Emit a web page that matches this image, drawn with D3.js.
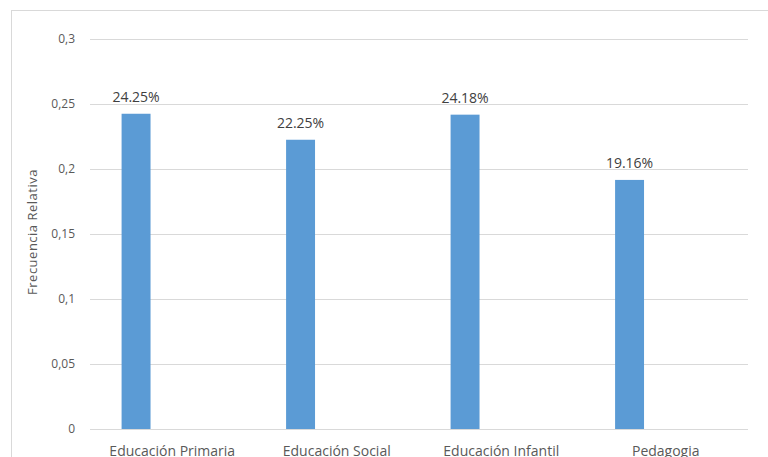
<!DOCTYPE html>
<html>
<head>
<meta charset="utf-8">
<script src="https://cdn.jsdelivr.net/npm/d3@7"></script>
<style>
  html, body { margin: 0; padding: 0; background: #fff; }
  svg { display: block; }
  text { font-family: "Open Sans", "Noto Sans", sans-serif; }
</style>
</head>
<body>
<svg id="chart" width="768" height="457"></svg>
<script>
// Frecuencia relativa por titulación
const categories = ["Educación Primaria", "Educación Social", "Educación Infantil", "Pedagogia"];
const values = [0.2425, 0.2225, 0.2418, 0.1916];
const valueLabels = ["24.25%", "22.25%", "24.18%", "19.16%"];
const yTicks = [0, 0.05, 0.1, 0.15, 0.2, 0.25, 0.3];
const yTickLabels = ["0", "0,05", "0,1", "0,15", "0,2", "0,25", "0,3"];
const yTitle = "Frecuencia Relativa";

const svg = d3.select("#chart");
const margin = { left: 90, top: 39 };
const plotRight = 748, plotBottom = 429;

// Chart frame
svg.append("rect")
  .attr("x", 11.5).attr("y", 10.5)
  .attr("width", 780).attr("height", 470)
  .attr("fill", "none").attr("stroke", "#d9d9d9").attr("stroke-width", 1);

const x = d3.scaleBand().domain(categories).range([margin.left, plotRight]).padding(0);
const y = d3.scaleLinear().domain([0, 0.3]).range([plotBottom, margin.top]);

// Horizontal gridlines
svg.append("g")
  .selectAll("line")
  .data(yTicks)
  .join("line")
  .attr("x1", margin.left).attr("x2", plotRight)
  .attr("y1", d => Math.round(y(d)) + 0.5).attr("y2", d => Math.round(y(d)) + 0.5)
  .attr("stroke", "#d9d9d9").attr("stroke-width", 1);

// Y axis labels
const yAxis = d3.axisLeft(y).tickValues(yTicks)
  .tickFormat((d, i) => yTickLabels[i]).tickSize(0).tickPadding(15);
const gy = svg.append("g").attr("transform", `translate(${margin.left},0)`).call(yAxis);
gy.select(".domain").remove();
gy.selectAll("text").attr("fill", "#595959").style("font-size", "12px")
  .style("font-family", "'Open Sans', sans-serif");

// Bars sit left of band centre (clustered slot)
const barW = x.bandwidth() * 0.176;
const barCenter = d => x(d) + x.bandwidth() * 0.28;

svg.append("g")
  .selectAll("rect")
  .data(categories)
  .join("rect")
  .attr("x", (d) => barCenter(d) - barW / 2)
  .attr("y", (d, i) => y(values[i]))
  .attr("width", barW)
  .attr("height", (d, i) => y(0) - y(values[i]))
  .attr("fill", "#5b9bd5");

// Value labels
svg.append("g")
  .selectAll("text")
  .data(categories)
  .join("text")
  .attr("x", d => barCenter(d))
  .attr("y", (d, i) => y(values[i]) - 12)
  .attr("text-anchor", "middle")
  .attr("fill", "#404040")
  .style("font-size", "14px")
  .text((d, i) => valueLabels[i]);

// Category labels
svg.append("g")
  .selectAll("text")
  .data(categories)
  .join("text")
  .attr("x", d => x(d) + x.bandwidth() / 2)
  .attr("y", 456)
  .attr("text-anchor", "middle")
  .attr("fill", "#595959")
  .style("font-size", "14px")
  .text(d => d);

// Y axis title
svg.append("text")
  .attr("transform", `translate(37,232) rotate(-90)`)
  .attr("text-anchor", "middle")
  .attr("fill", "#595959")
  .style("font-size", "13px")
  .style("letter-spacing", "0.5px")
  .text(yTitle);
</script>
</body>
</html>
